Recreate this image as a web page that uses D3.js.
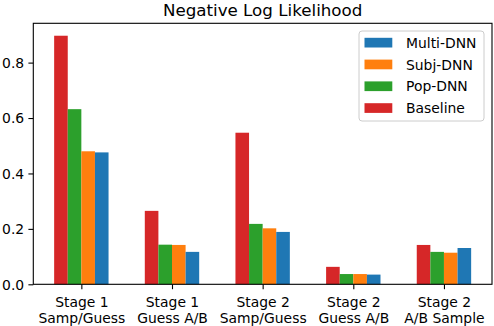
<!DOCTYPE html>
<html>
<head>
<meta charset="utf-8">
<script src="https://cdn.jsdelivr.net/npm/d3@7"></script>
<style>
  body { margin: 0; background: #fff; }
  svg text { font-family: "DejaVu Sans", sans-serif; fill: #000; }
</style>
</head>
<body>
<div id="chart"></div>
<script>
// categories (two-line tick labels)
var categories = [
  ["Stage 1", "Samp/Guess"],
  ["Stage 1", "Guess A/B"],
  ["Stage 2", "Samp/Guess"],
  ["Stage 2", "Guess A/B"],
  ["Stage 2", "A/B Sample"]
];
// series, drawn left to right inside each group
var seriesNames = ["Baseline", "Pop-DNN", "Subj-DNN", "Multi-DNN"];
var baseline = [0.897, 0.265, 0.547, 0.063, 0.142];
var popDnn   = [0.632, 0.143, 0.218, 0.037, 0.117];
var subjDnn  = [0.480, 0.142, 0.202, 0.037, 0.114];
var multiDnn = [0.476, 0.117, 0.189, 0.035, 0.131];
var colors = ["#d62728", "#2ca02c", "#ff7f0e", "#1f77b4"];
var yTicks = [0.0, 0.2, 0.4, 0.6, 0.8];

var seriesValues = [baseline, popDnn, subjDnn, multiDnn];

var W = 494, H = 326;
var margin = {top: 23.3, right: 2, bottom: 41.7, left: 33.3};
var width = W - margin.left - margin.right,
    height = H - margin.top - margin.bottom;

var barW = 0.15;
var n = categories.length;
var lo = -2 * barW, hi = (n - 1) + 2 * barW;
var pad = (hi - lo) * 0.05;

var x = d3.scaleLinear().domain([lo - pad, hi + pad]).range([0, width]);
var ymax = d3.max(seriesValues, function(s) { return d3.max(s); }) * 1.05;
var y = d3.scaleLinear().domain([0, ymax]).range([height, 0]);

var svg = d3.select("#chart").append("svg")
    .attr("width", W).attr("height", H);

var g = svg.append("g")
    .attr("transform", "translate(" + margin.left + "," + margin.top + ")");

// bars
seriesValues.forEach(function(vals, j) {
  g.selectAll(".bar" + j)
    .data(vals)
    .enter().append("rect")
      .attr("x", function(d, i) { return x(i + (j - 2) * barW); })
      .attr("width", x(barW) - x(0))
      .attr("y", function(d) { return y(d); })
      .attr("height", function(d) { return height - y(d); })
      .attr("fill", colors[j]);
});

// y axis
var yAxis = g.append("g")
    .call(d3.axisLeft(y).tickValues(yTicks).tickFormat(d3.format(".1f")).tickSize(4.9).tickPadding(4.2));
yAxis.select(".domain").remove();
yAxis.selectAll("line").attr("stroke", "#000").attr("stroke-width", 1.1);
yAxis.selectAll("text").style("font-size", "13.9px").attr("dy", "0.35em");

// x axis
var xAxis = g.append("g")
    .attr("transform", "translate(0," + height + ")")
    .call(d3.axisBottom(x).tickValues(d3.range(n)).tickFormat("").tickSize(4.9));
xAxis.select(".domain").remove();
xAxis.selectAll("line").attr("stroke", "#000").attr("stroke-width", 1.1);
xAxis.selectAll(".tick").each(function(d) {
  var t = d3.select(this).append("text")
      .attr("text-anchor", "middle")
      .style("font-size", "13.9px");
  categories[d].forEach(function(line, k) {
    t.append("tspan").attr("x", 0).attr("y", 22.6 + k * 16.2).text(line);
  });
});

// frame
g.append("rect")
    .attr("width", width).attr("height", height)
    .attr("fill", "none").attr("stroke", "#000").attr("stroke-width", 1.1);

// title
svg.append("text")
    .attr("x", margin.left + width / 2).attr("y", 16)
    .attr("text-anchor", "middle")
    .style("font-size", "16.7px")
    .text("Negative Log Likelihood");

// legend (reverse order)
var legend = g.append("g").attr("transform", "translate(" + (359 - margin.left) + "," + (31 - margin.top) + ")");
legend.append("rect")
    .attr("width", 125).attr("height", 90).attr("rx", 3)
    .attr("fill", "#fff").attr("fill-opacity", 0.8)
    .attr("stroke", "#cccccc").attr("stroke-width", 1);
var order = [3, 2, 1, 0];
order.forEach(function(j, k) {
  var cy = 11.7 + k * 21.8;
  legend.append("rect")
      .attr("x", 5.5).attr("y", cy - 4.9)
      .attr("width", 27.8).attr("height", 9.7)
      .attr("fill", colors[j]);
  legend.append("text")
      .attr("x", 47).attr("y", cy).attr("dy", "0.36em")
      .style("font-size", "13.9px")
      .text(seriesNames[j]);
});
</script>
</body>
</html>
